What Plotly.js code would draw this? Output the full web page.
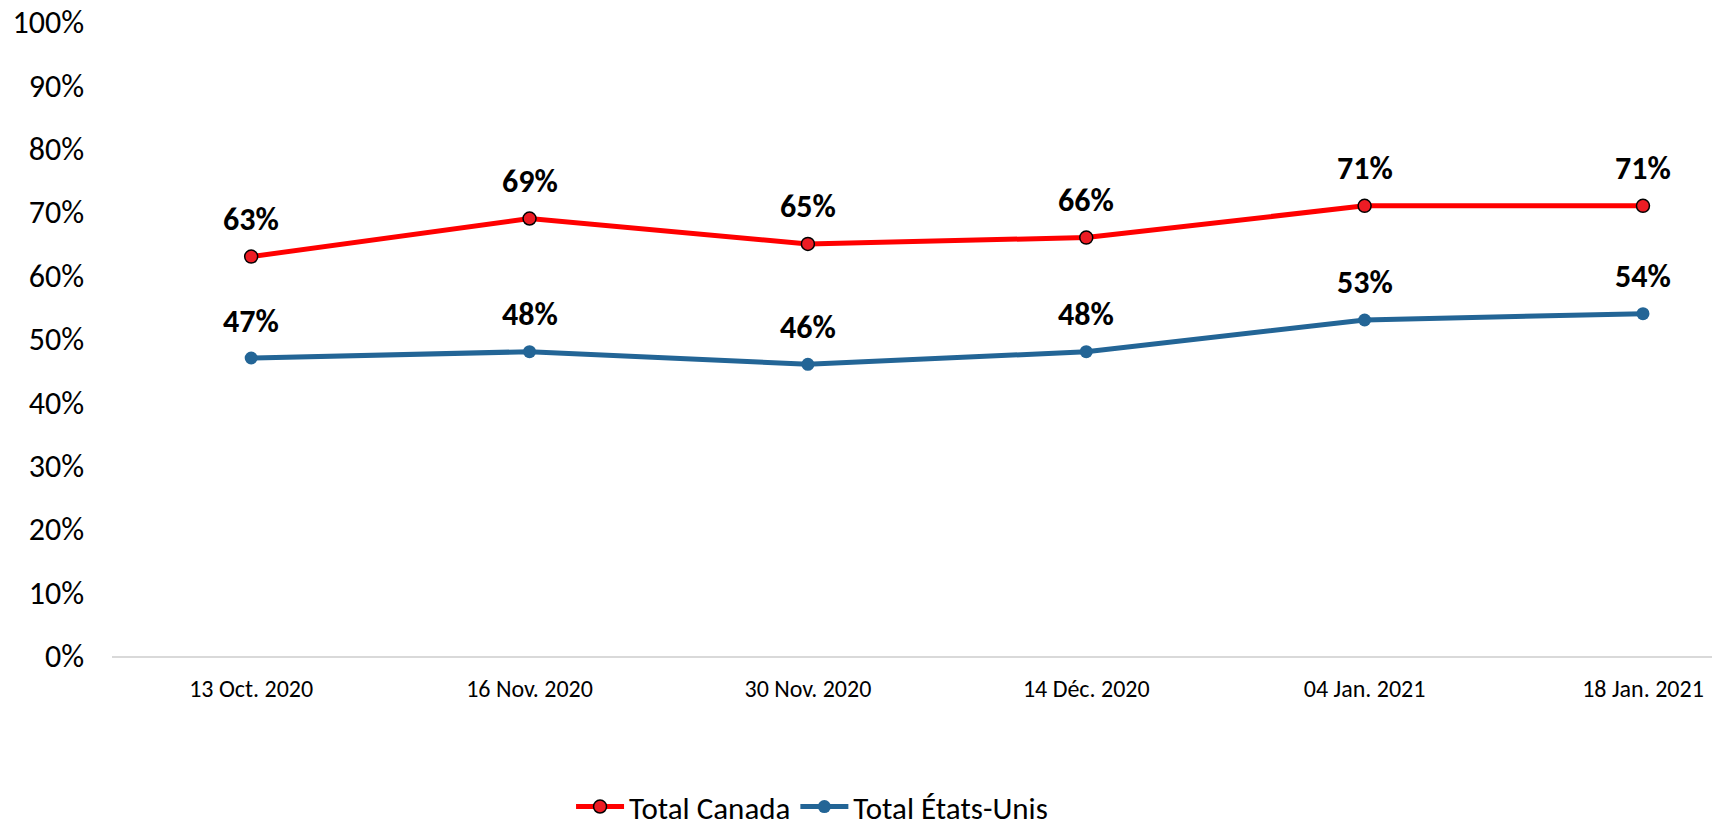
<!DOCTYPE html>
<html>
<head>
<meta charset="utf-8">
<script src="https://cdn.plot.ly/plotly-3.0.1.min.js"></script>
<style>html,body{margin:0;padding:0;background:#fff;}#chart{width:1712px;height:830px;}</style>
</head>
<body>
<div id="chart"></div>
<script>
const categories = ["13 Oct. 2020", "16 Nov. 2020", "30 Nov. 2020", "14 Déc. 2020", "04 Jan. 2021", "18 Jan. 2021"];
const canada = [0.63, 0.69, 0.65, 0.66, 0.71, 0.71];
const etatsUnis = [0.47, 0.48, 0.46, 0.48, 0.53, 0.54];
const seriesNames = ["Total Canada", "Total États-Unis"];
const yTickVals = [0, 0.1, 0.2, 0.3, 0.4, 0.5, 0.6, 0.7, 0.8, 0.9, 1.0];

const FONT = "Carlito, Lato, 'Open Sans', sans-serif";

const traces = [
  {
    x: categories, y: canada, name: seriesNames[0], type: "scatter", mode: "lines+markers",
    line: {color: "#FF0000", width: 5},
    marker: {size: 13, color: "#ED1C24", line: {color: "#000000", width: 1.5}},
    cliponaxis: false
  },
  {
    x: categories, y: etatsUnis, name: seriesNames[1], type: "scatter", mode: "lines+markers",
    line: {color: "#236596", width: 5},
    marker: {size: 13, color: "#236596"},
    cliponaxis: false
  }
];

const annotations = [];
[canada, etatsUnis].forEach(series => {
  series.forEach((v, i) => {
    annotations.push({
      x: categories[i], y: v, xref: "x", yref: "y",
      text: Math.round(v * 100) + "%",
      showarrow: false, yanchor: "middle", xanchor: "center", yshift: 37,
      font: {family: FONT, size: 32, color: "#000", weight: "bold"}
    });
  });
});

const layout = {
  width: 1712, height: 830,
  margin: {l: 112, r: 0, t: 21.5, b: 174, autoexpand: false},
  paper_bgcolor: "#fff", plot_bgcolor: "#fff",
  showlegend: true,
  legend: {
    orientation: "h", x: 0.2869, xanchor: "left", y: -0.238, yanchor: "middle",
    font: {family: FONT, size: 31, color: "#000"},
    itemwidth: 48, tracegroupgap: 0
  },
  xaxis: {
    type: "category", range: [-0.5, 5.248],
    showgrid: false, zeroline: false,
    showline: true, linecolor: "#D9D9D9", linewidth: 2,
    ticks: "", tickfont: {family: FONT, size: 24, color: "#000"},
    ticklabelstandoff: 10
  },
  yaxis: {
    range: [0, 1], tickvals: yTickVals, tickformat: ".0%",
    showgrid: false, zeroline: false, showline: false,
    ticks: "", tickfont: {family: FONT, size: 32, color: "#000"},
    ticklabelstandoff: 27
  },
  annotations: annotations
};

Plotly.newPlot("chart", traces, layout, {displayModeBar: false, staticPlot: true});
</script>
</body>
</html>
